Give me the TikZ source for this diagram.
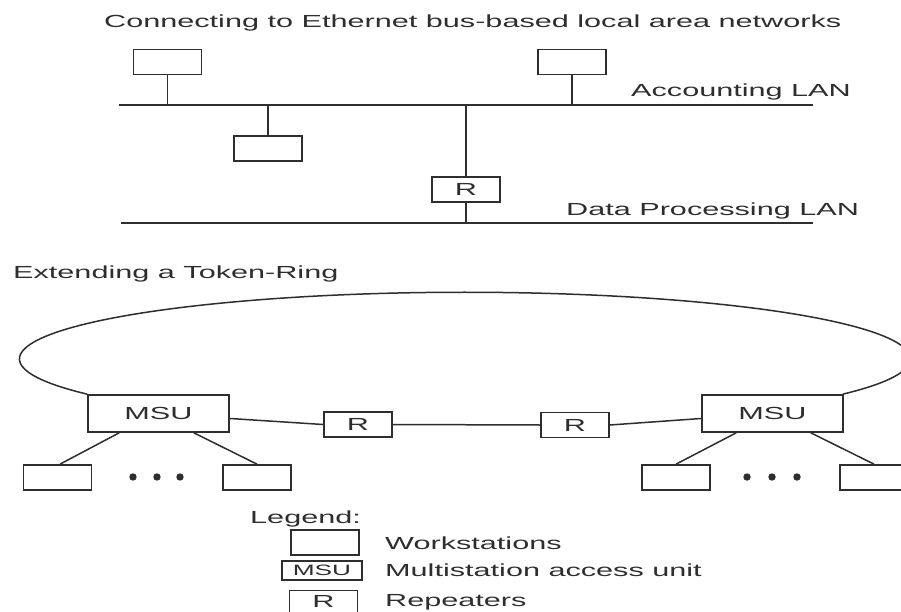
\documentclass[tikz,border=0pt]{standalone}
\usepackage{fontspec}
% wide sans-serif lettering, as in the printed figure
\setmainfont{Liberation Sans}[FakeStretch=1.75]
\newcommand\lblfont{\fontsize{17.5}{20}\selectfont}
\newcommand\keyfont{\fontsize{15}{18}\selectfont}
\begin{document}
\begin{tikzpicture}[x=1pt,y=-1pt,
  ink/.style={draw=black!82, line width=1.7pt},
  wire/.style={draw=black!82, line width=1.5pt},
  lbl/.style={font=\lblfont, text=black!82, inner sep=0pt},
  ws/.style={ink, rectangle, fill=white, minimum width=68pt, minimum height=25pt, inner sep=0pt},
  rep/.style={ws, font=\lblfont, text=black!82},
  msu/.style={ink, rectangle, fill=white, minimum width=141pt, minimum height=37pt, inner sep=0pt, font=\lblfont, text=black!82}]
\useasboundingbox (0,0) rectangle (901,612);
\fill[white] (0,0) rectangle (901,612);
\clip (0,0) rectangle (901,612);

% ---------- Ethernet buses ----------
\node[lbl, anchor=base west] (title1) at (104,28) {Connecting to Ethernet bus-based local area networks};

\coordinate (accL) at (119,105);
\coordinate (accR) at (813,105);
\coordinate (dpL) at (121,223);
\coordinate (dpR) at (813,223);

\node[ws] (ws1) at (167.5,62) {};
\node[ws] (ws2) at (572,62) {};
\node[ws] (ws3) at (268,148.5) {};
\node[rep] (r1) at (466,189.5) {R};

\draw[wire] (accL) -- (accR);
\draw[wire] (dpL) -- (dpR);
\draw[wire] (ws1.south) -- (ws1.south |- accL);
\draw[wire] (ws2.south) -- (ws2.south |- accL);
\draw[wire] (ws3.north) -- (ws3.north |- accL);
\draw[wire] (r1.north) -- (r1.north |- accL);
\draw[wire] (r1.south) -- (r1.south |- dpL);

\node[lbl, anchor=base west] (accT) at (631,97) {Accounting LAN};
\node[lbl, anchor=base west] (dpT) at (566,215) {Data Processing LAN};

% ---------- Token-Ring ----------
\node[lbl, anchor=base west] (title2) at (13,278) {Extending a Token-Ring};

\node[msu] (msuL) at (158.5,413.5) {MSU};
\node[msu] (msuR) at (772.5,413.5) {MSU};
\node[rep] (rA) at (358,424.5) {R};
\node[rep] (rB) at (575,425) {R};

% main ring over the top
\draw[wire] (msuL.north west) arc[start angle=148, end angle=392, x radius=445.5, y radius=66.6];

\draw[wire] (msuL.-4) -- (rA.west);
\draw[wire] (rA.east) -- (rB.west);
\draw[wire] (rB.east) -- (msuR.184);

\node[ws] (wa) at (57.5,477.5) {};
\node[ws] (wb) at (257,477.5) {};
\node[ws] (wc) at (676,477.5) {};
\node[ws] (wd) at (874,477.5) {};

\draw[wire] ([xshift=32pt]msuL.south west) -- ([xshift=2.5pt]wa.north);
\draw[wire] ([xshift=-36pt]msuL.south east) -- (wb.north);
\draw[wire] ([xshift=35pt]msuR.south west) -- (wc.north);
\draw[wire] ([xshift=-33pt]msuR.south east) -- (wd.north);

\foreach \px in {133,157,180,747,772,797}
  \fill[black!82] (\px,477) circle[radius=3.7];

% ---------- Legend ----------
\node[lbl, anchor=base west] (leg) at (250,523) {Legend:};
\node[ws] (kws) at (325,542.5) {};
\node[lbl, anchor=base west] (kwsT) at (385,549) {Workstations};
\node[ink, rectangle, minimum width=80pt, minimum height=19pt, inner sep=0pt, font=\keyfont, text=black!82] (kmsu) at (322,570.5) {MSU};
\node[lbl, anchor=base west] (kmsuT) at (385,576) {Multistation access unit};
\node[rep] (krep) at (323.5,603) {\raisebox{3pt}{R}};
\node[lbl, anchor=base west] (krepT) at (385,606) {Repeaters};
\end{tikzpicture}
\end{document}
